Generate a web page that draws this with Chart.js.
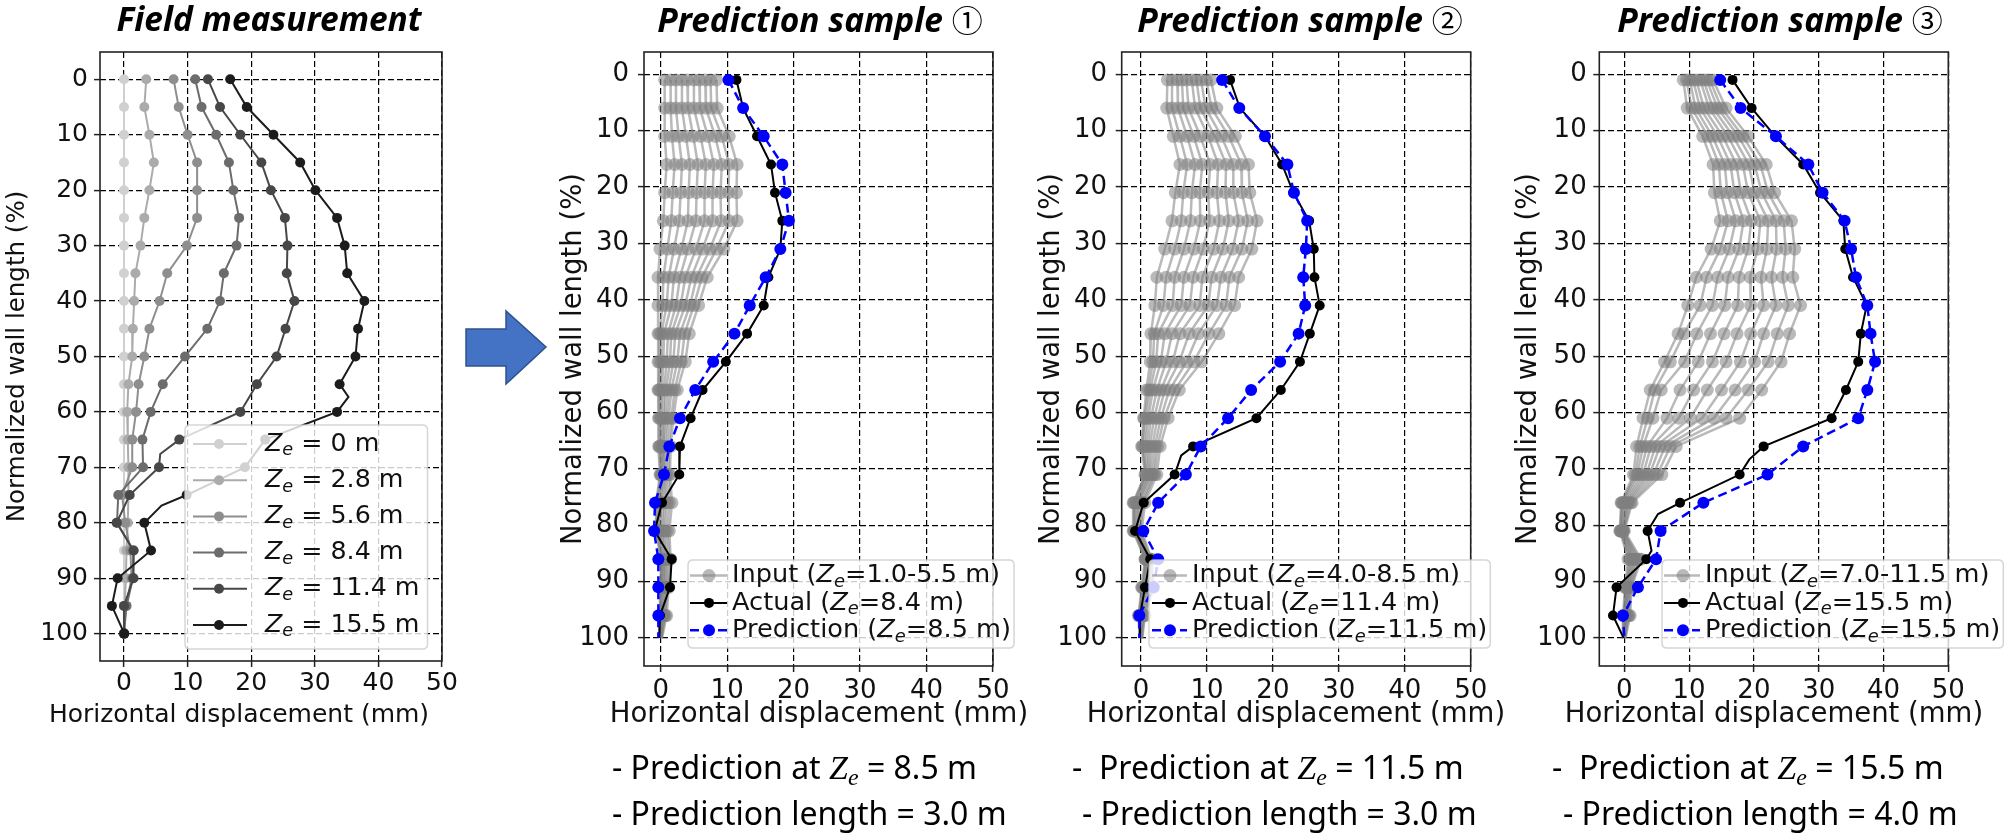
<!DOCTYPE html>
<html><head><meta charset="utf-8">
<script src="https://cdn.jsdelivr.net/npm/chart.js@4.4.1/dist/chart.umd.min.js"></script>
<style>
html,body{margin:0;padding:0;background:#fff;}
#wrap{position:relative;width:2010px;height:839px;overflow:hidden;background:#fff;}
canvas{position:absolute;top:0;}
.ttl{position:absolute;top:2px;font-family:'Noto Sans',sans-serif;font-weight:bold;font-style:italic;font-size:33.5px;line-height:33.5px;white-space:nowrap;transform:translateX(-50%);color:#000;}
.ttl .c{font-family:'Noto Sans CJK JP','Noto Sans',sans-serif;font-weight:normal;font-style:normal;font-size:31px;}
.cap{position:absolute;font-family:'Noto Sans',sans-serif;font-size:32px;line-height:32px;white-space:pre;color:#000;}
.cap .m{font-family:'Liberation Serif',serif;font-style:italic;font-size:34px;}
.cap .m sub{font-size:24px;vertical-align:-6px;line-height:0;}
.xt{position:absolute;font-family:'DejaVu Sans',sans-serif;white-space:nowrap;color:#111;transform:translateX(-50%);}
</style>
</head>
<body>
<div id="wrap">
  <canvas id="c1" width="520" height="839" style="left:0px;width:520px;height:839px"></canvas>
  <canvas id="c2" width="476" height="839" style="left:556px;width:476px;height:839px"></canvas>
  <canvas id="c3" width="476" height="839" style="left:1034px;width:476px;height:839px"></canvas>
  <canvas id="c4" width="498" height="839" style="left:1512px;width:498px;height:839px"></canvas>

  <div class="ttl" style="left:269px">Field measurement</div>
  <div class="ttl" style="left:820px">Prediction sample <span class="c">①</span></div>
  <div class="ttl" style="left:1300px">Prediction sample <span class="c">②</span></div>
  <div class="ttl" style="left:1780px">Prediction sample <span class="c">③</span></div>

  <div class="xt" style="left:239px;top:700.5px;font-size:25px;line-height:25px">Horizontal displacement (mm)</div>
  <div class="xt" style="left:819px;top:699.4px;font-size:27.5px;line-height:27.5px">Horizontal displacement (mm)</div>
  <div class="xt" style="left:1296px;top:699.4px;font-size:27.5px;line-height:27.5px">Horizontal displacement (mm)</div>
  <div class="xt" style="left:1774px;top:699.4px;font-size:27.5px;line-height:27.5px">Horizontal displacement (mm)</div>

  <svg style="position:absolute;left:0;top:0" width="2010" height="839">
    <polygon points="466,329 506,329 506,311 546,347 506,384 506,366 466,366" fill="#4472C4" stroke="#2F528F" stroke-width="1.5"/>
  </svg>

  <div class="cap" style="left:612px;top:750.5px">- Prediction at <span class="m">Z<sub>e</sub></span> = 8.5 m</div>
  <div class="cap" style="left:612px;top:796.5px">- Prediction length = 3.0 m</div>
  <div class="cap" style="left:1072px;top:750.5px">-  Prediction at <span class="m">Z<sub>e</sub></span> = 11.5 m</div>
  <div class="cap" style="left:1082px;top:796.5px">- Prediction length = 3.0 m</div>
  <div class="cap" style="left:1552px;top:750.5px">-  Prediction at <span class="m">Z<sub>e</sub></span> = 15.5 m</div>
  <div class="cap" style="left:1563px;top:796.5px">- Prediction length = 4.0 m</div>
</div>

<script>
// ---------------- DATA ----------------
const xTicks = [0, 10, 20, 30, 40, 50];
const yTicks = [0, 10, 20, 30, 40, 50, 60, 70, 80, 90, 100];

// Field measurement (depth in % of wall length, displacement in mm)
const fieldDepth = [0,5,10,15,20,25,30,35,40,45,50,55,60,65,70,75,80,85,90,95,100];
const fieldZe0  = [0,0,0,0,0,0,0,0,0,0,0,0,0,0,0,0,0,0,0,0,0];
const fieldZe28 = [3.5,3.2,4.0,4.7,4.0,3.2,2.6,1.8,1.6,1.4,1.3,0.7,0.5,0.6,0.7,0.7,0.6,0.4,0.3,0.1,0.0];
const fieldZe56 = [7.8,8.6,10.0,11.5,11.5,11.5,9.9,6.8,5.6,4.0,3.2,2.3,1.9,1.3,1.3,-0.3,0.2,1.0,1.2,0.3,0.0];
const fieldZe84 = [11.2,12.2,14.5,16.5,17.2,18.1,17.7,15.7,15.1,13.1,9.6,6.1,4.2,2.9,3.0,-0.9,-1.1,1.5,1.4,0.4,0.0];
const fieldZe114Depth = [0,5,10,15,20,25,30,35,40,45,50,55,60,65,67.6,70,75,80,85,90,95,100];
const fieldZe114 = [13.2,15.1,18.3,21.6,23.1,25.3,25.7,25.6,26.8,25.4,24.0,20.9,18.3,8.7,5.7,5.5,0.9,-1.15,1.5,1.5,0.0,0.0];
const fieldZe155Depth = [0,5,10,15,20,25,30,35,40,45,50,55,57.3,60,65,70,75,76.9,80,85,90,95,100];
const fieldZe155 = [16.7,19.3,23.5,27.7,30.1,33.5,34.7,35.1,37.8,36.8,36.4,33.9,35.3,33.5,22.2,19.0,9.85,5.9,3.2,4.25,-1.0,-1.9,0.05];
const fieldLabels = ['Z_e = 0 m','Z_e = 2.8 m','Z_e = 5.6 m','Z_e = 8.4 m','Z_e = 11.4 m','Z_e = 15.5 m'];
const fieldColors = ['#d0d0d0','#ababab','#8e8e8e','#6c6c6c','#474747','#1c1c1c'];

// Prediction samples
const predDepth = [1,6,11,16,21,26,31,36,41,46,51,56,61,66,71,76,81,86,91,96,100];

// Sample 1: inputs Ze = 1.0 ... 5.5 m
const s1Input = [
  [0.6,0.6,0.6,0.9,0.6,0.4,-0.1,-0.4,-0.4,-0.4,-0.4,-0.4,-0.3,-0.3,-0.1,-0.7,-0.7,0.0,0.0,-0.2,-0.2],
  [1.5,1.5,1.7,2.1,1.8,1.6,1.0,0.4,0.3,-0.2,-0.2,-0.3,-0.2,-0.2,0.0,-0.6,-0.6,0.1,0.1,-0.1,-0.2],
  [2.3,2.3,2.7,3.2,3.0,2.8,2.0,1.2,0.9,0.1,0.1,-0.1,0.0,-0.1,0.1,-0.4,-0.5,0.2,0.1,-0.1,-0.1],
  [3.2,3.2,3.8,4.4,4.2,4.1,3.1,2.0,1.6,0.5,0.4,0.2,0.1,0.1,0.2,-0.2,-0.3,0.3,0.2,0.0,-0.1],
  [4.0,4.1,4.9,5.6,5.4,5.3,4.1,2.9,2.3,1.1,0.9,0.5,0.4,0.3,0.4,0.0,-0.1,0.5,0.4,0.1,0.0],
  [5.0,5.0,6.0,6.8,6.6,6.6,5.3,3.7,3.0,1.6,1.4,0.8,0.6,0.4,0.5,0.3,0.2,0.6,0.5,0.3,0.0],
  [5.8,5.9,7.1,8.0,7.8,7.8,6.3,4.6,3.7,2.2,1.9,1.2,0.9,0.6,0.7,0.6,0.4,0.8,0.7,0.4,0.0],
  [6.7,6.8,8.2,9.2,9.0,9.1,7.4,5.4,4.4,2.9,2.5,1.6,1.2,0.9,0.9,0.9,0.7,1.0,0.8,0.6,0.1],
  [7.5,7.6,9.2,10.3,10.2,10.3,8.4,6.2,5.0,3.6,3.1,2.1,1.6,1.2,1.2,1.3,1.0,1.3,1.0,0.7,0.1],
  [8.4,8.5,10.3,11.5,11.4,11.5,9.5,7.0,5.7,4.3,3.7,2.5,1.9,1.5,1.4,1.7,1.3,1.5,1.2,0.9,0.2]
];
const s1Actual = [11.4,12.4,14.5,16.6,17.2,18.3,18.0,16.2,15.5,13.0,9.8,6.3,4.5,2.9,2.8,0.2,-0.9,1.65,1.4,-0.1,-0.2];
const s1Pred   = [10.2,12.4,15.5,18.3,18.8,19.3,18.0,15.8,13.4,11.1,7.9,5.2,2.9,1.3,0.5,-0.85,-1.0,-0.35,-0.35,-0.35,-0.35];
const s1Labels = ['Input (Z_e=1.0-5.5 m)','Actual (Z_e=8.4 m)','Prediction (Z_e=8.5 m)'];

// Sample 2: inputs Ze = 4.0 ... 8.5 m
const s2Input = [
  [4.0,3.9,4.9,5.9,5.2,4.7,3.6,2.4,2.1,1.5,1.4,0.8,0.4,0.1,0.6,-1.2,-1.2,0.6,0.1,-0.4,-0.2],
  [4.7,4.7,5.9,7.0,6.4,6.1,5.1,3.8,3.4,2.0,1.8,1.1,0.5,0.2,0.7,-1.1,-1.1,0.7,0.2,-0.3,-0.2],
  [5.5,5.6,7.0,8.2,7.7,7.5,6.5,5.1,4.8,2.6,2.3,1.4,0.8,0.4,0.8,-1.0,-1.0,0.7,0.3,-0.3,-0.1],
  [6.2,6.4,8.0,9.3,8.9,9.0,8.0,6.5,6.1,3.6,3.0,1.8,1.1,0.7,1.0,-0.8,-0.9,0.8,0.5,-0.2,-0.1],
  [6.9,7.2,9.0,10.5,10.2,10.4,9.4,7.9,7.4,4.7,3.8,2.4,1.5,1.0,1.2,-0.6,-0.8,0.9,0.7,-0.1,0.0],
  [7.7,8.2,10.2,11.7,11.5,11.9,11.0,9.3,8.9,5.9,4.8,3.0,2.0,1.3,1.4,-0.4,-0.6,1.0,0.9,0.0,0.0],
  [8.4,9.0,11.2,12.9,12.8,13.3,12.4,10.7,10.2,7.3,5.8,3.6,2.5,1.7,1.6,-0.2,-0.5,1.2,1.1,0.2,0.0],
  [9.1,9.8,12.2,14.0,14.0,14.8,13.9,12.1,11.5,8.7,6.9,4.3,3.0,2.1,1.9,0.1,-0.3,1.3,1.4,0.3,0.1],
  [9.9,10.7,13.3,15.2,15.3,16.2,15.3,13.4,12.9,10.3,8.0,5.1,3.5,2.5,2.1,0.3,-0.1,1.5,1.6,0.5,0.1],
  [10.6,11.5,14.3,16.3,16.5,17.6,16.8,14.8,14.2,11.8,9.2,5.8,4.1,2.9,2.4,0.6,0.1,1.6,1.9,0.6,0.2]
];
const s2ActualDepth = [1,6,11,16,21,26,31,36,41,46,51,56,61,66,67.6,71,76,81,86,91,96,100];
const s2Actual = [13.5,15.0,18.8,21.4,23.1,25.5,26.2,26.3,27.1,25.6,24.1,21.2,17.5,7.9,6.1,5.1,0.4,-0.9,1.4,0.6,-0.15,-0.15];
const s2Pred   = [12.3,14.9,18.8,22.2,23.2,25.2,25.0,24.6,24.9,23.9,21.1,16.7,13.2,9.05,6.8,2.6,0.35,2.6,1.9,-0.25,-0.25];
const s2Labels = ['Input (Z_e=4.0-8.5 m)','Actual (Z_e=11.4 m)','Prediction (Z_e=11.5 m)'];

// Sample 3: inputs Ze = 7.0 ... 11.5 m
const s3Input = [
  [9.1,9.7,12.1,13.7,13.9,14.8,13.4,11.1,9.8,8.3,6.2,4.0,2.9,1.9,1.4,-0.5,-0.7,0.6,0.1,-0.2,-0.2],
  [9.6,10.4,12.9,14.6,14.9,16.0,14.8,12.7,11.7,9.2,7.1,4.7,3.6,2.4,1.7,-0.4,-0.6,0.8,0.2,-0.1,-0.2],
  [10.1,11.0,13.6,15.5,15.9,17.2,16.2,14.4,13.6,11.2,9.3,5.7,4.4,2.9,2.0,-0.3,-0.6,1.0,0.3,0.0,-0.1],
  [10.6,11.7,14.4,16.4,17.0,18.4,17.7,16.0,15.5,13.3,11.4,8.6,6.6,3.5,2.4,-0.1,-0.5,1.2,0.4,0.1,-0.1],
  [11.1,12.3,15.2,17.3,18.0,19.6,19.1,17.7,17.5,15.4,13.6,10.7,8.4,4.1,2.9,0.1,-0.4,1.4,0.5,0.2,0.0],
  [11.7,13.1,16.0,18.3,19.1,21.0,20.6,19.4,19.5,17.4,15.7,12.8,10.2,4.8,3.4,0.3,-0.3,1.6,0.6,0.3,0.0],
  [12.2,13.7,16.8,19.2,20.1,22.2,22.0,21.1,21.5,19.5,17.9,15.0,12.0,5.5,3.9,0.5,-0.2,1.8,0.7,0.4,0.0],
  [12.7,14.4,17.6,20.1,21.2,23.4,23.5,22.7,23.4,21.5,20.1,17.1,13.8,6.3,4.5,0.7,-0.2,2.1,0.8,0.6,0.1],
  [13.2,15.0,18.3,21.0,22.2,24.6,24.9,24.4,25.3,23.6,22.2,19.1,15.7,7.1,5.1,1.0,-0.1,2.3,1.0,0.7,0.1],
  [13.7,15.7,19.1,21.9,23.2,25.8,26.3,26.0,27.2,25.5,24.2,21.2,17.8,8.0,5.8,1.2,0.0,2.6,1.1,0.9,0.2]
];
const s3ActualDepth = [1,6,11,16,21,26,31,36,41,46,51,56,61,66,68.3,71,76,78,81,84.5,86,91,96,100];
const s3Actual = [16.7,19.65,23.3,27.6,30.2,33.8,34.1,35.3,37.4,36.5,36.1,34.2,32.0,21.5,19.3,17.8,8.6,5.2,3.6,4.2,3.4,-1.2,-1.75,-0.1];
const s3Pred   = [14.8,17.95,23.4,28.4,30.6,34.0,35.0,35.75,37.5,38.0,38.7,37.5,36.1,27.6,22.1,12.2,5.6,4.9,2.1,-0.2,0.0];
const s3Labels = ['Input (Z_e=7.0-11.5 m)','Actual (Z_e=15.5 m)','Prediction (Z_e=15.5 m)'];

// ---------------- HELPERS ----------------
const TXT = '#111';
function pts(xs, ys) { return xs.map((x, i) => ({x: x, y: ys[i]})); }
const markField = y => Math.abs(y % 5) < 1e-9;
const markPred  = y => y < 100 && Math.abs((y - 1) % 5) < 1e-9;

function series(xs, ys, color, r, lw, markFn, extra) {
  return Object.assign({
    data: pts(xs, ys), showLine: true,
    borderColor: color, backgroundColor: color,
    pointBackgroundColor: color, pointBorderColor: color, pointBorderWidth: 0,
    borderWidth: lw, markR: r,
    pointRadius: ctx => (ctx.raw && markFn(ctx.raw.y)) ? r : 0,
    pointHoverRadius: ctx => (ctx.raw && markFn(ctx.raw.y)) ? r : 0
  }, extra || {});
}

function richText(ctx, x, y, label, size, draw) {
  const parts = label.split('Z_e');
  let cx = x;
  ctx.textBaseline = 'middle'; ctx.textAlign = 'left';
  for (let i = 0; i < parts.length; i++) {
    ctx.font = size + 'px "DejaVu Sans"';
    if (draw) ctx.fillText(parts[i], cx, y);
    cx += ctx.measureText(parts[i]).width;
    if (i < parts.length - 1) {
      ctx.font = 'italic ' + size + 'px "DejaVu Sans"';
      if (draw) ctx.fillText('Z', cx, y);
      cx += ctx.measureText('Z').width;
      ctx.font = 'italic ' + (size * 0.7) + 'px "DejaVu Sans"';
      if (draw) ctx.fillText('e', cx, y + size * 0.27);
      cx += ctx.measureText('e').width;
    }
  }
  return cx - x;
}

const spinePlugin = {
  id: 'spines',
  afterDatasetsDraw(chart) {
    const {ctx, chartArea: a} = chart;
    ctx.save();
    ctx.strokeStyle = '#222'; ctx.lineWidth = 1.6;
    ctx.strokeRect(a.left, a.top, a.right - a.left, a.bottom - a.top);
    ctx.restore();
  }
};

const legendPlugin = {
  id: 'mplLegend',
  afterDraw(chart, args, o) {
    if (!o || o.size === undefined) return;
    const ctx = chart.ctx, a = chart.chartArea;
    const items = chart.data.datasets.filter(d => d.legendLabel).sort((p, q) => p.legendRank - q.legendRank);
    ctx.save();
    let maxW = 0;
    items.forEach(d => { maxW = Math.max(maxW, richText(ctx, 0, 0, d.legendLabel, o.size, false)); });
    const bx = a.left + o.dx, by = a.top + o.dy, bw = o.textX + maxW + o.padR, bh = o.h, r = 5;
    ctx.beginPath();
    ctx.moveTo(bx + r, by); ctx.lineTo(bx + bw - r, by); ctx.quadraticCurveTo(bx + bw, by, bx + bw, by + r);
    ctx.lineTo(bx + bw, by + bh - r); ctx.quadraticCurveTo(bx + bw, by + bh, bx + bw - r, by + bh);
    ctx.lineTo(bx + r, by + bh); ctx.quadraticCurveTo(bx, by + bh, bx, by + bh - r);
    ctx.lineTo(bx, by + r); ctx.quadraticCurveTo(bx, by, bx + r, by); ctx.closePath();
    ctx.fillStyle = 'rgba(255,255,255,0.8)'; ctx.fill();
    ctx.strokeStyle = 'rgba(204,204,204,0.8)'; ctx.lineWidth = 1.5; ctx.stroke();
    items.forEach((d, i) => {
      const y = by + o.first + i * o.pitch;
      ctx.strokeStyle = d.borderColor; ctx.lineWidth = d.borderWidth;
      ctx.setLineDash(d.borderDash || []);
      ctx.beginPath(); ctx.moveTo(bx + o.l0, y); ctx.lineTo(bx + o.l1, y); ctx.stroke();
      ctx.setLineDash([]);
      ctx.fillStyle = d.pointBackgroundColor;
      ctx.beginPath(); ctx.arc(bx + o.mx, y, d.markR, 0, Math.PI * 2); ctx.fill();
      ctx.fillStyle = TXT;
      richText(ctx, bx + o.textX, y, d.legendLabel, o.size, true);
    });
    ctx.restore();
  }
};
Chart.register(spinePlugin, legendPlugin);

function makeChart(id, p, datasets) {
  const tickFont = {family: 'DejaVu Sans', size: p.tickSize, lineHeight: 1};
  const titleFont = {family: 'DejaVu Sans', size: p.titleSize, lineHeight: 1};
  const grid = {color: '#000', lineWidth: 1.2, tickColor: '#222', tickLength: 6, tickWidth: 1.5, drawTicks: true};
  return new Chart(document.getElementById(id), {
    type: 'scatter',
    data: {datasets: datasets},
    options: {
      responsive: false, animation: false, devicePixelRatio: 1,
      events: [],
      layout: {padding: {left: 0, top: 52, right: p.padR, bottom: p.padB}},
      plugins: {legend: {display: false}, tooltip: {enabled: false}, mplLegend: p.legend},
      scales: {
        x: {
          type: 'linear', position: 'bottom', min: p.xmin, max: 50,
          afterBuildTicks: s => { s.ticks = xTicks.map(v => ({value: v})); },
          afterFit: s => { s.height = p.xh; },
          grid: grid, border: {display: false, dash: [6, 3]},
          ticks: {font: tickFont, color: TXT, padding: p.xpad, maxRotation: 0, autoSkip: false},
          title: {display: false}
        },
        y: {
          type: 'linear', position: 'left', reverse: true, min: p.ymin, max: p.ymax,
          afterBuildTicks: s => { s.ticks = yTicks.map(v => ({value: v})); },
          afterFit: s => { s.width = p.yw; },
          grid: grid, border: {display: false, dash: [6, 3]},
          ticks: {font: tickFont, color: TXT, padding: p.ypad, autoSkip: false},
          title: {display: true, text: 'Normalized wall length (%)', font: titleFont, color: TXT, padding: {top: p.ytp, bottom: 0}}
        }
      }
    }
  });
}

// ---------- Panel 1: field measurement ----------
const fieldX = [fieldZe0, fieldZe28, fieldZe56, fieldZe84, fieldZe114, fieldZe155];
const fieldY = [fieldDepth, fieldDepth, fieldDepth, fieldDepth, fieldZe114Depth, fieldZe155Depth];
const ds1 = fieldX.map((xs, i) => series(xs, fieldY[i], fieldColors[i], 5, 2, markField,
  {legendLabel: fieldLabels[i], legendRank: i, order: 5 - i}));
makeChart('c1', {
  tickSize: 25, titleSize: 24.5, xmin: -3.77, ymin: -4.93, ymax: 104.94,
  yw: 100, xh: 40, padR: 78, padB: 138, xpad: 3.7, ypad: 6, ytp: 5.45,
  legend: {size: 25.3, dx: 85, dy: 373, h: 224, first: 19, pitch: 36.2, l0: 8, l1: 62, mx: 34, textX: 80, padR: 8}
}, ds1);

// ---------- Panels 2-4: prediction samples ----------
const inputColor = 'rgba(128,128,128,0.55)';
function predSets(inputs, actX, actY, predX, labels) {
  const sets = inputs.map((xs, i) => series(xs, predDepth, inputColor, 6.5, 2.5, markPred,
    i === 0 ? {legendLabel: labels[0], legendRank: 0, order: 3} : {order: 3}));
  sets.push(series(actX, actY, '#000000', 5, 2, markPred, {legendLabel: labels[1], legendRank: 1, order: 1}));
  sets.push(series(predX, predDepth, '#0000ff', 6, 2.5, markPred, {legendLabel: labels[2], legendRank: 2, order: 0, borderDash: [9, 5]}));
  return sets;
}

makeChart('c2', {
  tickSize: 26, titleSize: 27.5, xmin: -2.51, ymin: -3.95, ymax: 104.95,
  yw: 88, xh: 40, padR: 39, padB: 133, xpad: 6.5, ypad: 9, ytp: 4.05,
  legend: {size: 25.6, dx: 44, dy: 508, h: 88, first: 15.5, pitch: 27.4, l0: 2, l1: 39, mx: 21, textX: 44, padR: 3}
}, predSets(s1Input, s1Actual, predDepth, s1Pred, s1Labels));

makeChart('c3', {
  tickSize: 26, titleSize: 27.5, xmin: -2.93, ymin: -3.95, ymax: 104.95,
  yw: 87.7, xh: 40, padR: 39.3, padB: 133, xpad: 6.5, ypad: 8.7, ytp: 4.45,
  legend: {size: 25.6, dx: 27.3, dy: 508, h: 88, first: 15.5, pitch: 27.4, l0: 3, l1: 38, mx: 21, textX: 43, padR: 3}
}, predSets(s2Input, s2Actual, s2ActualDepth, s2Pred, s2Labels));

makeChart('c4', {
  tickSize: 26, titleSize: 27.5, xmin: -3.86, ymin: -3.95, ymax: 104.95,
  yw: 87.3, xh: 40, padR: 61.7, padB: 133, xpad: 6.5, ypad: 6.6, ytp: 3.05,
  legend: {size: 25.6, dx: 62.7, dy: 508, h: 88, first: 15.5, pitch: 27.4, l0: 2, l1: 38, mx: 21, textX: 43, padR: 3}
}, predSets(s3Input, s3Actual, s3ActualDepth, s3Pred, s3Labels));
</script>
</body></html>
